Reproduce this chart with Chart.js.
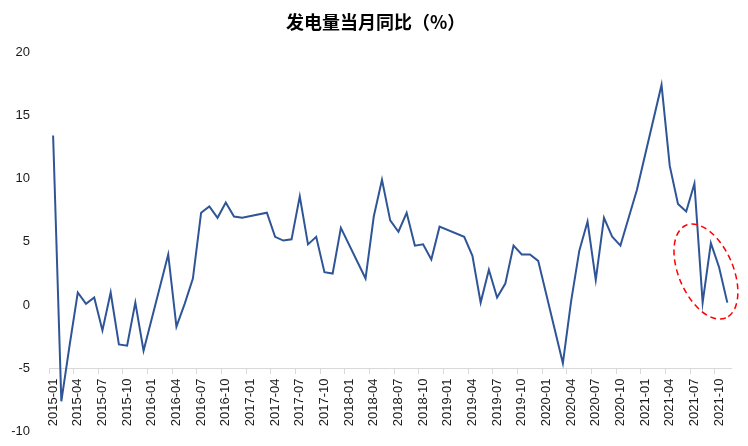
<!DOCTYPE html>
<html>
<head>
<meta charset="utf-8">
<script src="https://cdn.jsdelivr.net/npm/chart.js@4.4.0/dist/chart.umd.min.js"></script>
<style>
  html, body { margin: 0; padding: 0; background: #fff; }
  #box { width: 748px; height: 446px; }
</style>
</head>
<body>
<div id="box"><canvas id="grafico" width="748" height="446"></canvas></div>
<script>
// 月份：2015-01 到 2021-11
const anos = [2015, 2016, 2017, 2018, 2019, 2020, 2021];
const meses = [];
anos.forEach(a => {
    for (let m = 1; m <= 12; m++) {
        if (a === 2021 && m > 11) break;
        meses.push(a + '-' + String(m).padStart(2, '0'));
    }
});

// 发电量当月同比（%），1-2月没有单月数据的地方用 null
const valores2015 = [13.4, -7.6, -3.2, 1.0, 0.1, 0.6, -2.0, 1.0, -3.1, -3.2, 0.2, -3.6];
const valores2016 = [null, null, 4.0, -1.7, 0.1, 2.1, 7.3, 7.8, 6.9, 8.1, 7.0, 6.9];
const valores2017 = [null, null, 7.3, 5.4, 5.1, 5.2, 8.6, 4.8, 5.4, 2.6, 2.5, 6.1];
const valores2018 = [null, null, 2.1, 7.0, 9.9, 6.7, 5.8, 7.3, 4.7, 4.8, 3.6, 6.2];
const valores2019 = [null, null, 5.4, 3.9, 0.2, 2.8, 0.6, 1.7, 4.7, 4.0, 4.0, 3.5];
const valores2020 = [null, null, -4.6, 0.3, 4.3, 6.6, 2.0, 6.9, 5.4, 4.7, 6.9, 9.1];
const valores2021 = [null, null, 17.4, 11.0, 8.0, 7.4, 9.6, 0.2, 4.9, 3.0, 0.2];

const valores = [].concat(valores2015, valores2016, valores2017, valores2018,
    valores2019, valores2020, valores2021);

const ticksY = [-10, -5, 0, 5, 10, 15, 20];

// 红色虚线椭圆（标注最近几个月）
const elipse = { indice: 79.4, valor: 2.65, rx: 50.4, ry: 27.2, angulo: 66.7 };

const pluginElipse = {
    id: 'elipse',
    afterLayout(chart) {
        // título um pouco à direita, como no original
        if (chart.titleBlock) chart.titleBlock.left = 18;
    },
    afterDatasetsDraw(chart) {
        const c = chart.ctx;
        const cx = chart.scales.x.getPixelForValue(elipse.indice);
        const cy = chart.scales.y.getPixelForValue(elipse.valor);
        c.save();
        c.beginPath();
        c.ellipse(cx, cy, elipse.rx, elipse.ry, elipse.angulo * Math.PI / 180, 0, Math.PI * 2);
        c.setLineDash([6, 4]);
        c.lineWidth = 1.5;
        c.strokeStyle = '#FF0000';
        c.stroke();
        c.restore();
    }
};

const dados = {
    labels: meses,
    datasets: [{
        label: '发电量当月同比',
        data: valores,
        borderColor: '#2F5597',
        borderWidth: 2,
        pointRadius: 0,
        tension: 0,
        spanGaps: true,
        fill: false
    }]
};

const config = {
    type: 'line',
    data: dados,
    options: {
        responsive: false,
        animation: false,
        layout: { padding: { left: 0, top: 0, right: 14.7, bottom: 14.3 } },
        plugins: {
            legend: { display: false },
            tooltip: { enabled: false },
            title: {
                display: true,
                text: '发电量当月同比（%）',
                color: '#000',
                font: { family: '"Noto Sans CJK SC"', size: 18, weight: 'bold' },
                lineHeight: 1.2,
                padding: { top: 11.4, bottom: 19 }
            }
        },
        scales: {
            x: {
                type: 'category',
                position: { y: -5 },
                offset: true,
                grid: {
                    offset: true,
                    drawOnChartArea: false,
                    drawTicks: true,
                    tickLength: 5,
                    color: ctx => (ctx.index % 3 === 0 ? '#D9D9D9' : 'rgba(0,0,0,0)')
                },
                border: { display: true, color: '#D9D9D9', width: 1 },
                ticks: {
                    autoSkip: false,
                    minRotation: 90,
                    maxRotation: 90,
                    padding: 5,
                    color: '#1a1a1a',
                    font: { family: '"Liberation Sans", Arial', size: 13 },
                    callback: (v, i) => (i % 3 === 0 ? meses[i] : '')
                }
            },
            y: {
                min: -10,
                max: 20,
                afterFit: s => { s.width = 49; },
                afterBuildTicks: s => { s.ticks = ticksY.map(v => ({ value: v })); },
                grid: {
                    display: true,
                    drawOnChartArea: false,
                    drawTicks: true,
                    tickLength: 19,
                    color: 'rgba(0,0,0,0)'
                },
                border: { display: false },
                ticks: {
                    padding: 0,
                    color: '#1a1a1a',
                    font: { family: '"Liberation Sans", Arial', size: 13 }
                }
            }
        }
    },
    plugins: [pluginElipse]
};

const ctx = document.getElementById('grafico').getContext('2d');
const grafico = new Chart(ctx, config);
</script>
</body>
</html>
